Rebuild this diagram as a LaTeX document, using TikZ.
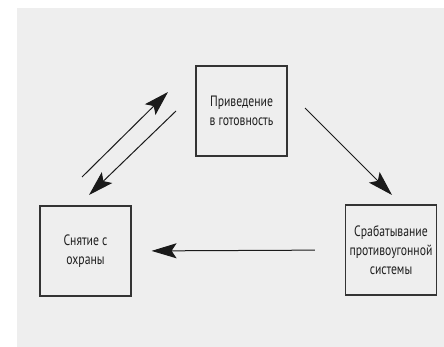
\documentclass[tikz,border=0pt]{standalone}
\usepackage{fontspec}
\setmainfont{PT Sans}[FakeStretch=0.78]
\usetikzlibrary{arrows.meta, positioning, calc}

\begin{document}
\begin{tikzpicture}[
    x=1pt, y=-1pt,
    every node/.style={font=\fontsize{15}{19}\selectfont},
    statebox/.style={draw=boxcolor, line width=1.1pt, minimum width=91pt,
                     minimum height=90pt, align=center, text=textcolor},
    flow/.style={draw=linecolor, line width=1pt,
                 -{Stealth[length=25pt, width=15pt, inset=5pt]}},
]

\definecolor{paper}{HTML}{EEEEEE}      % the grey panel
\definecolor{boxcolor}{HTML}{333333}
\definecolor{textcolor}{HTML}{1E1E1E}
\definecolor{linecolor}{HTML}{1A1A1A}

% ================================================================
% Three states of the alarm, placed in pixel units (y grows down).
%   top   : armed        centre (241.5, 111)
%   left  : disarmed     centre ( 85.5, 251)
%   right : triggered    centre (391.0, 250)
% ================================================================

\useasboundingbox (0,0) rectangle (444,347);
\fill[paper] (17,8) rectangle (444,347);

\node[statebox] (arm) at (241.5,111) {Приведение\\в готовность};
\node[statebox] (off) at (85.5,251)  {Снятие с\\охраны};
\node[statebox] (trig) at (391,250)  {Срабатывание\\противоугонной\\системы};

% ---------------------------------------------------------------- free ends
\coordinate (upA) at (82,177);
\coordinate (upB) at (168,92);
\coordinate (dnA) at (176,111);
\coordinate (dnB) at (89,195);
\coordinate (rtA) at (305,108);
\coordinate (rtB) at (392,195);

% ---------------------------------------------------------------- arrows
\draw[flow] (upA) -- (upB);
\draw[flow] (dnA) -- (dnB);
\draw[flow] (rtA) -- (rtB);
\draw[flow, shorten <=30pt, shorten >=20pt] (trig.west) -- (off.east);

\end{tikzpicture}
\end{document}
